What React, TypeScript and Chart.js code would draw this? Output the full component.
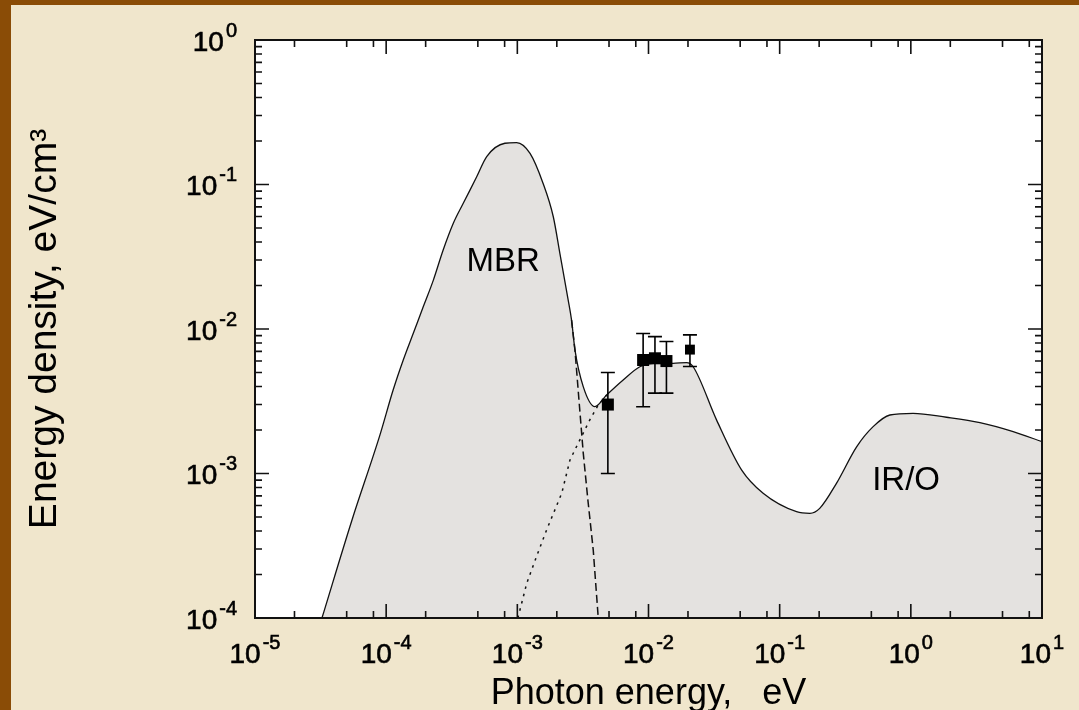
import React, { useEffect, useRef } from "react";
import { Chart, registerables } from "chart.js";

Chart.register(...registerables);

// ---- data ----
const envelopeEnergy = [
  3.24e-5, 5.49e-5, 8.97e-5, 1.13e-4, 1.35e-4, 1.61e-4, 1.92e-4, 2.29e-4, 2.72e-4, 3.25e-4,
  3.87e-4, 4.9e-4, 5.84e-4, 8.04e-4, 9.88e-4, 1.25e-3, 1.57e-3, 1.88e-3, 2.11e-3, 2.44e-3,
  2.59e-3, 2.75e-3, 3.18e-3, 3.9e-3, 4.79e-3, 6.41e-3, 8.59e-3, 1.09e-2, 1.54e-2, 1.95e-2,
  2.19e-2, 3.3e-2, 5.12e-2, 7.48e-2, 0.1345, 0.17, 0.202, 0.271, 0.386, 0.516,
  0.692, 1.04, 1.87, 3.36, 6.03, 10,
];
const envelopeDensity = [
  1e-4, 4.77e-4, 1.85e-3, 3.78e-3, 6.1e-3, 9.33e-3, 1.43e-2, 2.18e-2, 3.52e-2, 5.39e-2,
  7.41e-2, 0.113, 0.156, 0.193, 0.195, 0.164, 0.102, 0.0598, 0.0334, 0.0159,
  0.01153, 7.16e-3, 3.99e-3, 2.9e-3, 3.49e-3, 4.44e-3, 5.48e-3, 5.79e-3, 5.79e-3, 5.85e-3,
  5.48e-3, 2.35e-3, 1.06e-3, 7.3e-4, 5.44e-4, 5.3e-4, 5.74e-4, 8.55e-4, 1.53e-3, 2.11e-3,
  2.54e-3, 2.61e-3, 2.45e-3, 2.25e-3, 1.95e-3, 1.66e-3,
];
const mbrEnergy = [2.59e-3, 2.75e-3, 2.95e-3, 3.18e-3, 3.45e-3, 3.79e-3, 4.14e-3];
const mbrDensity = [0.01153, 7.16e-3, 3.23e-3, 1.39e-3, 6.56e-4, 2.96e-4, 1e-4];
const cibEnergy = [1.01e-3, 1.18e-3, 1.4e-3, 1.67e-3, 2.18e-3, 2.52e-3, 2.91e-3, 3.57e-3, 4.14e-3, 4.8e-3];
const cibDensity = [1e-4, 1.74e-4, 2.66e-4, 4.06e-4, 7.3e-4, 1.24e-3, 1.62e-3, 2.35e-3, 2.98e-3, 3.49e-3];
const pointEnergy = [4.9e-3, 9.1e-3, 1.12e-2, 1.37e-2, 2.07e-2];
const pointDensity = [3.0e-3, 6.1e-3, 6.27e-3, 6.0e-3, 7.2e-3];
const pointUpper = [5.0e-3, 9.3e-3, 8.85e-3, 8.2e-3, 9.1e-3];
const pointLower = [1.0e-3, 2.9e-3, 3.6e-3, 3.6e-3, 5.5e-3];
const xTickExponents = [-5, -4, -3, -2, -1, 0, 1];
const yTickExponents = [-4, -3, -2, -1, 0];
const xMinorMultipliers = [2, 5, 8];
const yMinorMultipliers = [2, 3, 4, 5, 6, 7, 8, 9];
const regionLabels = ["MBR", "IR/O"];
const regionLabelEnergy = [7.8e-4, 0.92];
const regionLabelDensity = [0.0293, 8.95e-4];
const xTitle = "Photon energy,   eV";
const yTitle = "Energy density, eV/cm\u00B3";

const FONT = '"Liberation Sans", Arial, Helvetica, sans-serif';
const BROWN = "#8a4c06";
const CREAM = "#f0e6cc";
const FILL = "#e4e2e0";

const toPoints = (xs: number[], ys: number[]) => xs.map((x, i) => ({ x, y: ys[i] }));

function drawPower(ctx: CanvasRenderingContext2D, exp: number, x: number, y: number, mode: "x" | "y") {
  const base = "10";
  const sup = String(exp);
  ctx.font = `28px ${FONT}`;
  const bw = ctx.measureText(base).width;
  ctx.font = `20px ${FONT}`;
  const ew = ctx.measureText(sup).width;
  const gap = 2;
  const start = mode === "x" ? x - (bw + gap + ew) / 2 : x - (bw + gap + ew);
  ctx.textAlign = "left";
  ctx.textBaseline = "middle";
  ctx.fillStyle = "#000";
  ctx.strokeStyle = "#000";
  ctx.lineWidth = 0.6;
  ctx.font = `28px ${FONT}`;
  ctx.fillText(base, start, y + 3);
  ctx.strokeText(base, start, y + 3);
  ctx.font = `20px ${FONT}`;
  ctx.fillText(sup, start + bw + gap, y - 9);
  ctx.strokeText(sup, start + bw + gap, y - 9);
}

const errorBarPlugin = {
  id: "errorBars",
  afterDatasetsDraw(chart: any) {
    const { ctx, scales } = chart;
    const xs = scales.x;
    const ys = scales.y;
    ctx.save();
    ctx.strokeStyle = "#000";
    ctx.lineWidth = 1.6;
    pointEnergy.forEach((e, i) => {
      const px = xs.getPixelForValue(e);
      const top = ys.getPixelForValue(pointUpper[i]);
      const bot = ys.getPixelForValue(pointLower[i]);
      ctx.beginPath();
      ctx.moveTo(px, top);
      ctx.lineTo(px, bot);
      ctx.moveTo(px - 7, top);
      ctx.lineTo(px + 7, top);
      ctx.moveTo(px - 7, bot);
      ctx.lineTo(px + 7, bot);
      ctx.stroke();
    });
    ctx.restore();
  },
};

const framePlugin = {
  id: "frameAndLabels",
  beforeDraw(chart: any) {
    const { ctx, chartArea: a } = chart;
    ctx.save();
    ctx.fillStyle = "#ffffff";
    ctx.fillRect(a.left, a.top, a.right - a.left, a.bottom - a.top);
    ctx.restore();
  },
  afterDraw(chart: any) {
    const { ctx, chartArea: a, scales } = chart;
    const xs = scales.x;
    const ys = scales.y;
    ctx.save();
    ctx.strokeStyle = "#111";
    ctx.lineWidth = 1.6;
    ctx.beginPath();
    const xMinE = Math.min(...xTickExponents);
    const xMaxE = Math.max(...xTickExponents);
    for (let d = xMinE; d <= xMaxE; d++) {
      [1, ...xMinorMultipliers].forEach((m) => {
        const v = m * Math.pow(10, d);
        if (v > Math.pow(10, xMaxE) * 1.0001) return;
        const px = xs.getPixelForValue(v);
        const len = m === 1 ? 14 : 7;
        ctx.moveTo(px, a.bottom);
        ctx.lineTo(px, a.bottom - len);
        ctx.moveTo(px, a.top);
        ctx.lineTo(px, a.top + len);
      });
    }
    const yMinE = Math.min(...yTickExponents);
    const yMaxE = Math.max(...yTickExponents);
    for (let d = yMinE; d <= yMaxE; d++) {
      [1, ...yMinorMultipliers].forEach((m) => {
        const v = m * Math.pow(10, d);
        if (v > Math.pow(10, yMaxE) * 1.0001) return;
        const py = ys.getPixelForValue(v);
        const len = m === 1 ? 14 : 7;
        ctx.moveTo(a.left, py);
        ctx.lineTo(a.left + len, py);
        ctx.moveTo(a.right, py);
        ctx.lineTo(a.right - len, py);
      });
    }
    ctx.stroke();
    ctx.lineWidth = 2;
    ctx.strokeRect(a.left, a.top, a.right - a.left, a.bottom - a.top);
    xTickExponents.forEach((e) => {
      drawPower(ctx, e, xs.getPixelForValue(Math.pow(10, e)), a.bottom + 34, "x");
    });
    yTickExponents.forEach((e) => {
      drawPower(ctx, e, a.left - 18, ys.getPixelForValue(Math.pow(10, e)), "y");
    });
    ctx.font = `33px ${FONT}`;
    ctx.textAlign = "center";
    ctx.textBaseline = "middle";
    ctx.fillStyle = "#000";
    regionLabels.forEach((t, i) => {
      ctx.fillText(t, xs.getPixelForValue(regionLabelEnergy[i]), ys.getPixelForValue(regionLabelDensity[i]));
    });
    ctx.restore();
  },
};

export default function App() {
  const ref = useRef<HTMLCanvasElement | null>(null);

  useEffect(() => {
    document.body.style.margin = "0";
    const canvas = ref.current;
    if (!canvas) return;
    const chart = new Chart(canvas, {
      type: "line",
      data: {
        datasets: [
          {
            label: "data",
            type: "scatter",
            data: toPoints(pointEnergy, pointDensity),
            showLine: false,
            pointStyle: "rect",
            pointRadius: (c: any) => (c.dataIndex === 4 ? 7 : 8.5),
            pointBackgroundColor: "#000",
            pointBorderWidth: 0,
            order: 0,
          } as any,
          {
            label: "MBR",
            data: toPoints(mbrEnergy, mbrDensity),
            borderColor: "#111",
            borderWidth: 1.5,
            borderDash: [8, 4],
            pointRadius: 0,
            fill: false,
            order: 1,
          },
          {
            label: "CIB",
            data: toPoints(cibEnergy, cibDensity),
            borderColor: "#111",
            borderWidth: 1.5,
            borderDash: [2.5, 5],
            pointRadius: 0,
            fill: false,
            order: 1,
          },
          {
            label: "total",
            data: toPoints(envelopeEnergy, envelopeDensity),
            borderColor: "#111",
            borderWidth: 1.3,
            backgroundColor: FILL,
            pointRadius: 0,
            fill: "start",
            cubicInterpolationMode: "monotone",
            order: 3,
          },
        ],
      },
      options: {
        animation: false,
        responsive: false,
        layout: { padding: { left: 0, top: 35, right: 37, bottom: 0 } },
        plugins: { legend: { display: false }, tooltip: { enabled: false } },
        scales: {
          x: {
            type: "logarithmic",
            position: "bottom",
            min: 1e-5,
            max: 10,
            grid: { display: false },
            border: { display: false },
            ticks: { display: false },
            title: {
              display: true,
              text: xTitle,
              color: "#000",
              font: { family: FONT, size: 36, lineHeight: 0.9 },
              padding: 0,
            },
            afterFit: (s: any) => {
              s.height = 92;
            },
          },
          y: {
            type: "logarithmic",
            min: 1e-4,
            max: 1,
            grid: { display: false },
            border: { display: false },
            ticks: { display: false },
            title: {
              display: true,
              text: yTitle,
              color: "#000",
              font: { family: FONT, size: 39, lineHeight: 1.2 },
              padding: { top: 11, bottom: 0 },
            },
            afterFit: (s: any) => {
              s.width = 244;
            },
          },
        },
      } as any,
      plugins: [framePlugin, errorBarPlugin],
    });
    return () => chart.destroy();
  }, []);

  return (
    <div style={{ position: "fixed", left: 0, top: 0, width: "100vw", height: "100vh", background: BROWN }}>
      <div style={{ position: "absolute", left: 11, top: 5, width: 1068, height: 705, background: CREAM }}>
        <canvas ref={ref} width={1068} height={705} style={{ display: "block" }} />
      </div>
    </div>
  );
}
